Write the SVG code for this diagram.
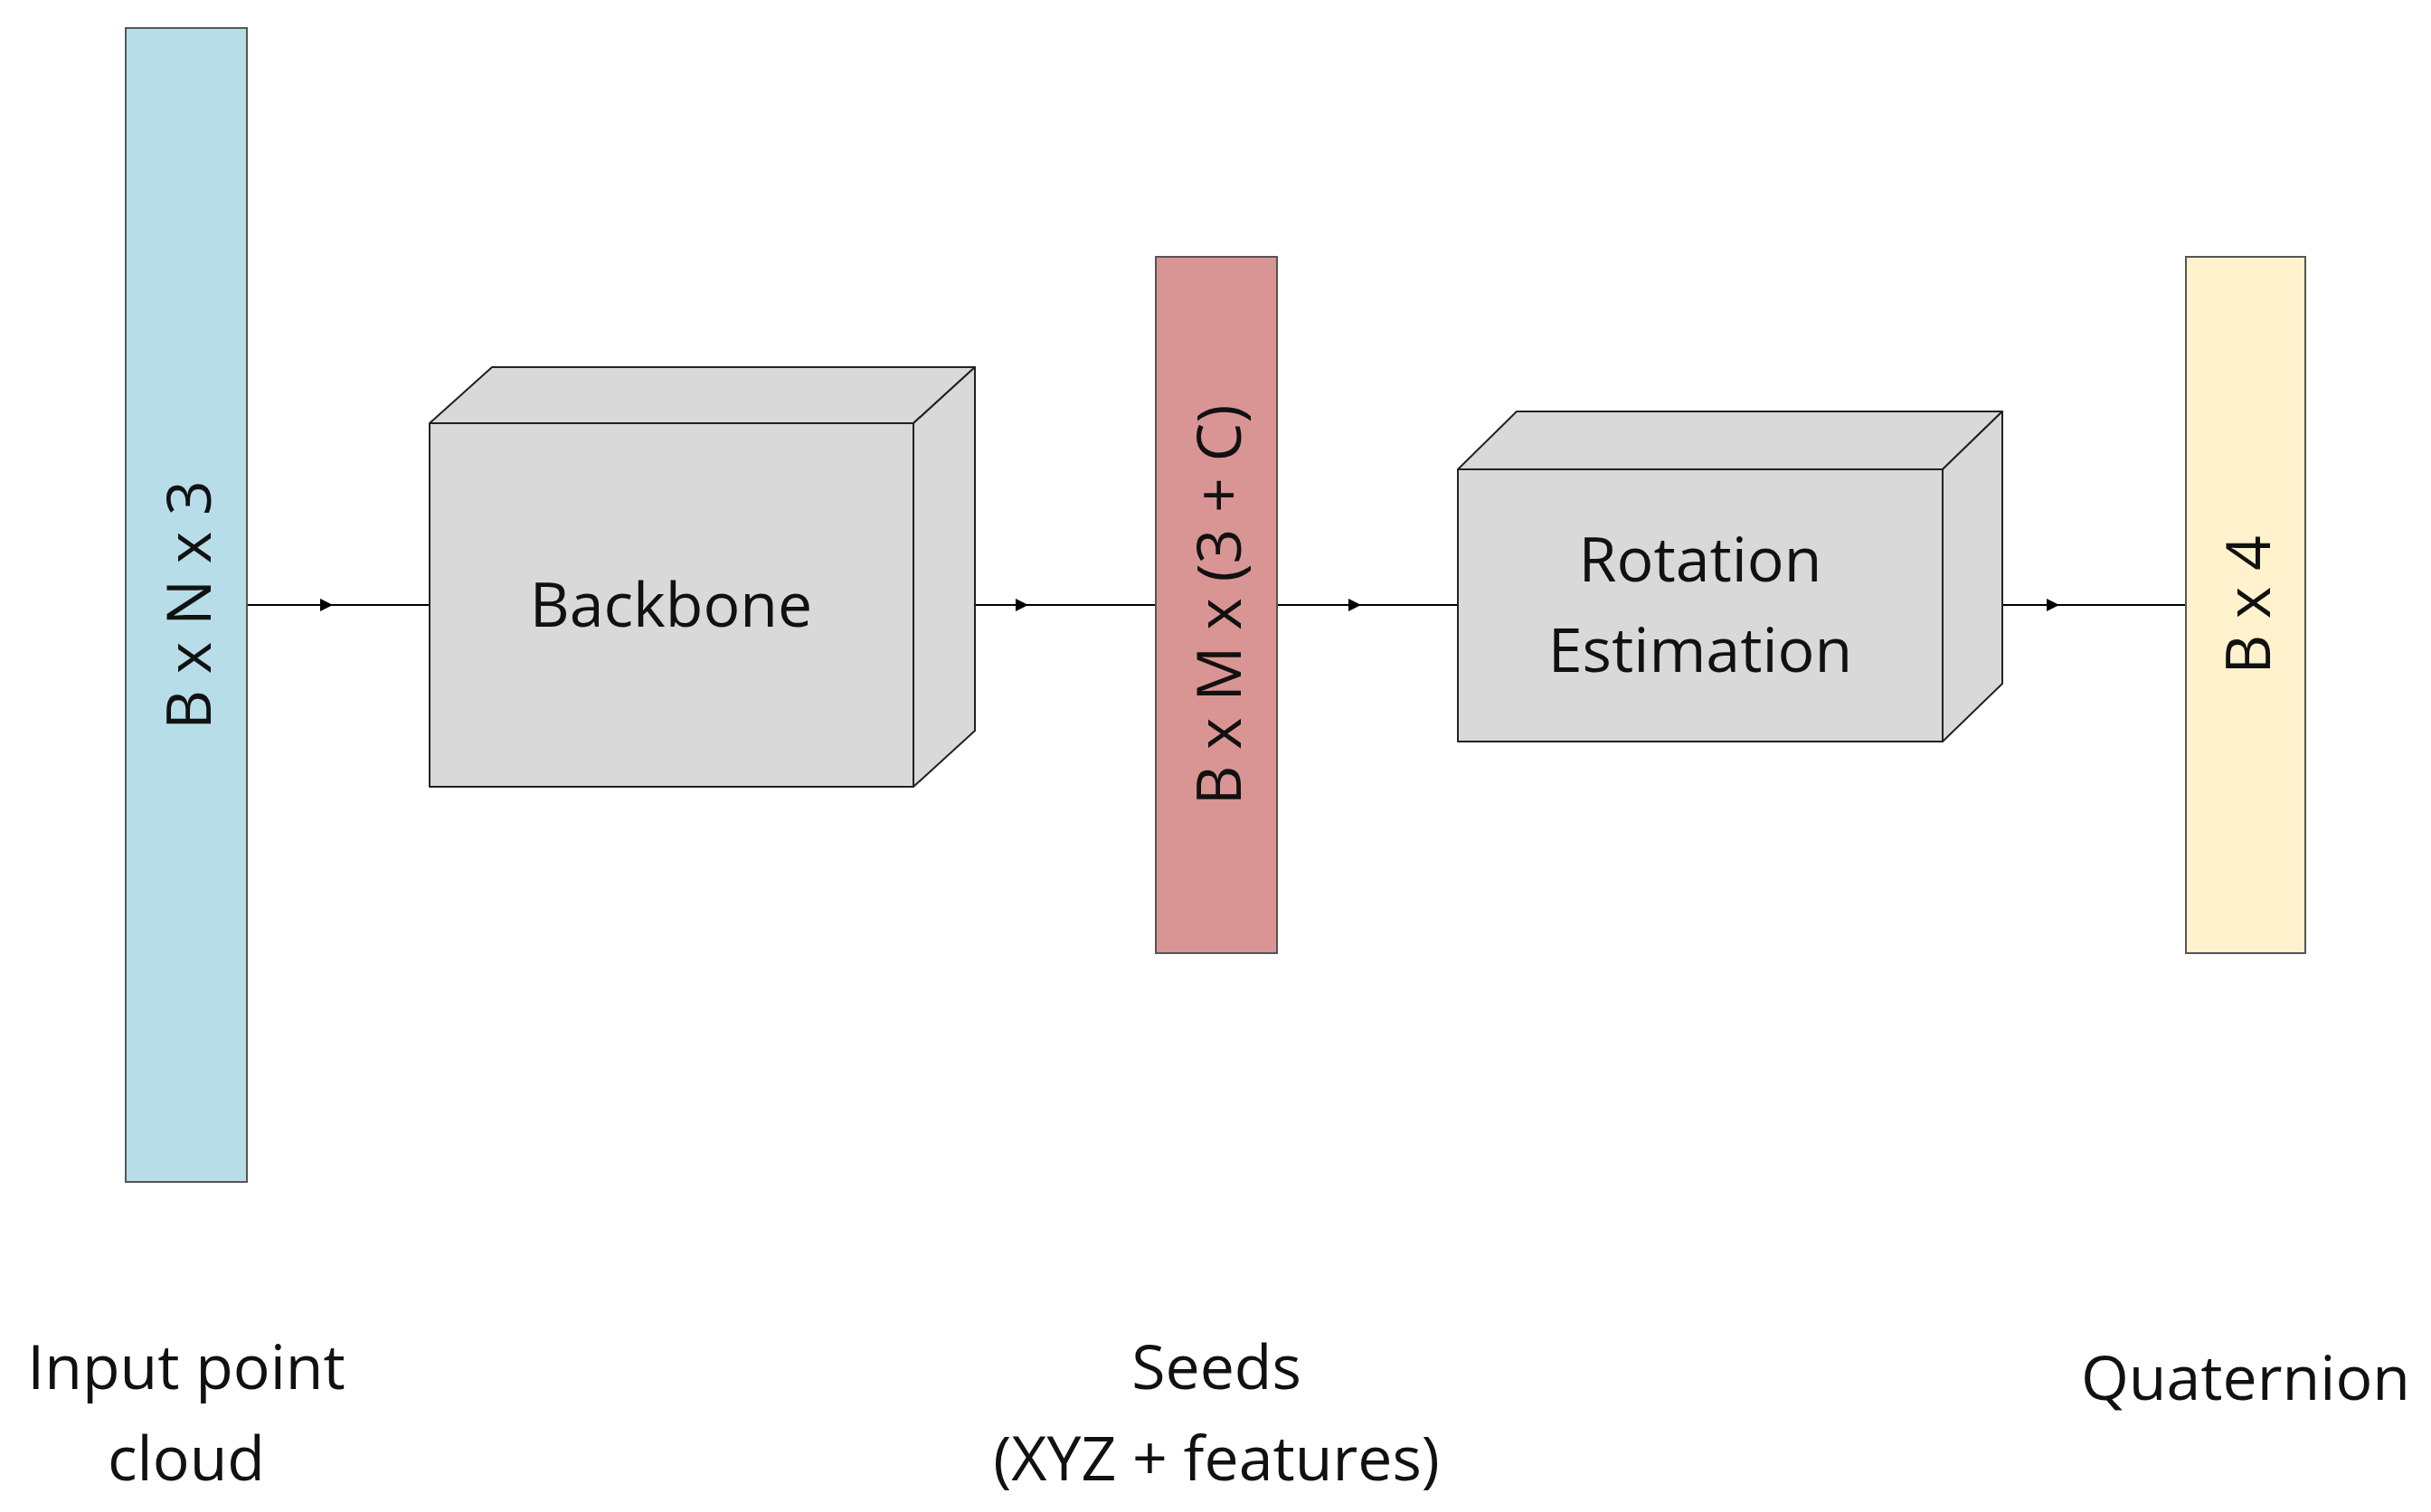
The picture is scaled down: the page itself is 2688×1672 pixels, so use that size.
<svg xmlns="http://www.w3.org/2000/svg" width="2688" height="1672" viewBox="0 0 2688 1672">
<defs>
<style>
text{font-family:"Open Sans","Liberation Sans",sans-serif;font-size:68px;fill:#111;text-anchor:middle}
.bar{stroke:#555;stroke-width:2}
.box{fill:#d9d9d9;stroke:#222;stroke-width:2;stroke-linejoin:round}
.ln{stroke:#000;stroke-width:2;fill:none;marker-mid:url(#ah)}
</style>
<marker id="ah" viewBox="0 0 10 10" refX="5" refY="5" markerWidth="14" markerHeight="14" markerUnits="userSpaceOnUse" orient="auto"><path d="M0,0L10,5L0,10z" fill="#000"/></marker>
</defs>
<rect width="2688" height="1672" fill="#fff"/>
<g id="connectors">
<path class="ln" d="M273,669L361,669L475,669"/>
<path class="ln" d="M1010,669L1130,669L1278,669"/>
<path class="ln" d="M1412,669L1498,669L1612,669"/>
<path class="ln" d="M2148,669L2270,669L2417,669"/>
</g>
<g id="input"><rect class="bar" x="139" y="31" width="134" height="1276" fill="#b7dde8"/>
<text transform="translate(206,669) rotate(-90)" dominant-baseline="central">B x N x 3</text>
<text x="206" y="1536">Input point</text><text x="206" y="1637">cloud</text></g>
<g id="backbone">
<path class="box" d="M475,468L544,406L1078,406L1010,468Z"/>
<path class="box" d="M1010,468L1078,406L1078,808L1010,870Z"/>
<rect class="box" x="475" y="468" width="535" height="402"/>
<text x="742" y="693">Backbone</text></g>
<g id="seeds"><rect class="bar" x="1278" y="284" width="134" height="770" fill="#d99594"/>
<text transform="translate(1345,669) rotate(-90)" dominant-baseline="central">B x M x (3 + C)</text>
<text x="1345" y="1536">Seeds</text><text x="1345" y="1637">(XYZ + features)</text></g>
<g id="rotation">
<path class="box" d="M1612,519L1677,455L2214,455L2148,519Z"/>
<path class="box" d="M2148,519L2214,455L2214,756L2148,820Z"/>
<rect class="box" x="1612" y="519" width="536" height="301"/>
<text x="1880" y="643">Rotation</text><text x="1880" y="743">Estimation</text></g>
<g id="quaternion"><rect class="bar" x="2417" y="284" width="132" height="770" fill="#fff2cc"/>
<text transform="translate(2483,669) rotate(-90)" dominant-baseline="central">B x 4</text>
<text x="2483" y="1548">Quaternion</text></g>
</svg>
